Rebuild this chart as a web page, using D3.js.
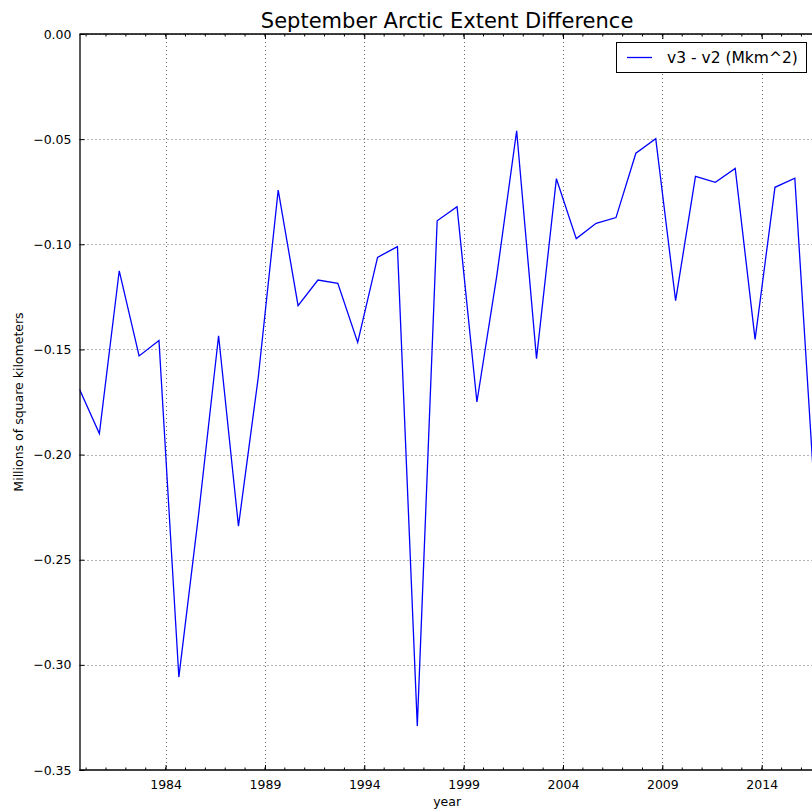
<!DOCTYPE html>
<meta charset="utf-8">
<head>
    <script src="https://cdn.jsdelivr.net/npm/d3@7"></script>
    <style>
        body { margin: 0; background: #fff; }
        text { font-family: "DejaVu Sans", sans-serif; fill: #000; }
    </style>
</head>
<body>
<div id="chart"></div>
</body>
<script type="text/javascript">

    // September extent, v3 minus v2, millions of km^2
    var years = [1979, 1980, 1981, 1982, 1983, 1984, 1985, 1986, 1987, 1988,
                 1989, 1990, 1991, 1992, 1993, 1994, 1995, 1996, 1997, 1998,
                 1999, 2000, 2001, 2002, 2003, 2004, 2005, 2006, 2007, 2008,
                 2009, 2010, 2011, 2012, 2013, 2014, 2015, 2016];
    var diff = [-0.169, -0.190, -0.1126, -0.1531, -0.1458, -0.3058, -0.228, -0.1435, -0.234, -0.163,
                -0.0742, -0.1292, -0.117, -0.1186, -0.1467, -0.1062, -0.1011, -0.3291, -0.0888, -0.0821,
                -0.175, -0.115, -0.046, -0.1544, -0.0688, -0.0973, -0.0900, -0.0873, -0.0567, -0.0498,
                -0.1268, -0.0677, -0.0705, -0.0639, -0.1452, -0.0729, -0.0686, -0.22];
    var monthOffset = 8 / 12;   // points sit at September of each year

    var xTicks = [1984, 1989, 1994, 1999, 2004, 2009, 2014];
    var yTicks = [0, -0.05, -0.10, -0.15, -0.20, -0.25, -0.30, -0.35];

    var W = 812, H = 810;
    var margin = {top: 34, left: 79.5, bottom: 40};
    var plotBottom = H - margin.bottom;

    var data = years.map(function (y, i) { return {x: y + monthOffset, v: diff[i]}; });

    var x = d3.scaleLinear()
        .domain([years[0] + monthOffset, years[years.length - 1] + monthOffset])
        .range([margin.left, 814.7]);
    var y = d3.scaleLinear().domain([-0.35, 0]).range([plotBottom, margin.top]);

    var svg = d3.select("#chart").append("svg")
        .attr("width", W).attr("height", H);

    svg.append("defs").append("clipPath").attr("id", "clip")
        .append("rect")
        .attr("x", x.range()[0]).attr("y", margin.top)
        .attr("width", x.range()[1] - x.range()[0])
        .attr("height", plotBottom - margin.top);

    // grid, dotted like matplotlib classic
    var grid = svg.append("g").attr("clip-path", "url(#clip)");
    grid.selectAll(".gx").data(xTicks).enter().append("line")
        .attr("x1", function (d) { return Math.round(x(d)) + 0.5; })
        .attr("x2", function (d) { return Math.round(x(d)) + 0.5; })
        .attr("y1", margin.top).attr("y2", plotBottom)
        .attr("stroke", "#666").attr("stroke-width", 1)
        .attr("stroke-dasharray", "1,3");
    grid.selectAll(".gy").data(yTicks).enter().append("line")
        .attr("x1", x.range()[0]).attr("x2", W)
        .attr("y1", function (d) { return Math.round(y(d)) + 0.5; })
        .attr("y2", function (d) { return Math.round(y(d)) + 0.5; })
        .attr("stroke", "#666").attr("stroke-width", 1)
        .attr("stroke-dasharray", "1,3");

    // the series
    var line = d3.line()
        .x(function (d) { return x(d.x); })
        .y(function (d) { return y(d.v); });
    svg.append("path")
        .datum(data)
        .attr("clip-path", "url(#clip)")
        .attr("d", line)
        .attr("fill", "none")
        .attr("stroke", "#0000ff")
        .attr("stroke-width", 1.3);

    // axes, ticks pointing inward
    var minorYears = d3.range(1980, 2017);
    var xBottom = d3.axisBottom(x).tickValues(xTicks).tickFormat(d3.format("d"))
        .tickSizeInner(-5).tickSizeOuter(0).tickPadding(10);
    var gxb = svg.append("g").attr("transform", "translate(0," + plotBottom + ")").call(xBottom);
    gxb.append("g").selectAll("line").data(minorYears).enter().append("line")
        .attr("x1", function (d) { return x(d); }).attr("x2", function (d) { return x(d); })
        .attr("y1", 0).attr("y2", -2.5).attr("stroke", "#000");

    var xTop = d3.axisTop(x).tickValues(xTicks).tickFormat("")
        .tickSizeInner(-5).tickSizeOuter(0);
    var gxt = svg.append("g").attr("transform", "translate(0," + margin.top + ")").call(xTop);
    gxt.append("g").selectAll("line").data(minorYears).enter().append("line")
        .attr("x1", function (d) { return x(d); }).attr("x2", function (d) { return x(d); })
        .attr("y1", 0).attr("y2", 2.5).attr("stroke", "#000");

    var yLeft = d3.axisLeft(y).tickValues(yTicks)
        .tickFormat(function (d) { return d3.format(".2f")(d).replace("-", "\u2212"); })
        .tickSizeInner(-5).tickSizeOuter(0).tickPadding(8);
    var gy = svg.append("g").attr("transform", "translate(" + margin.left + ",0)").call(yLeft);

    [gxb, gxt, gy].forEach(function (g) {
        g.select(".domain").attr("stroke", "#000").attr("stroke-width", 1.3);
        g.selectAll(".tick text").style("font-size", "12.5px").style("font-family", "DejaVu Sans");
    });
    gxb.select(".domain").attr("d", "M" + x.range()[0] + ",0H" + W);
    gxt.select(".domain").attr("d", "M" + x.range()[0] + ",0H" + W);

    // titles
    svg.append("text")
        .attr("x", (x.range()[0] + x.range()[1]) / 2).attr("y", 28)
        .attr("text-anchor", "middle")
        .style("font-size", "21px")
        .text("September Arctic Extent Difference");
    svg.append("text")
        .attr("x", (x.range()[0] + x.range()[1]) / 2).attr("y", 806)
        .attr("text-anchor", "middle")
        .style("font-size", "12.5px")
        .text("year");
    svg.append("text")
        .attr("transform", "translate(23," + (margin.top + plotBottom) / 2 + ") rotate(-90)")
        .attr("text-anchor", "middle")
        .style("font-size", "12.5px")
        .text("Millions of square kilometers");

    // legend
    var lg = svg.append("g");
    lg.append("rect")
        .attr("x", 616.5).attr("y", 42.5).attr("width", 190).attr("height", 30)
        .attr("fill", "#fff").attr("stroke", "#000").attr("stroke-width", 1);
    lg.append("line")
        .attr("x1", 627).attr("x2", 652).attr("y1", 57.5).attr("y2", 57.5)
        .attr("stroke", "#0000ff").attr("stroke-width", 1.3);
    lg.append("text")
        .attr("x", 667).attr("y", 63)
        .style("font-size", "15.5px")
        .text("v3 - v2 (Mkm^2)");

</script>
</html>
